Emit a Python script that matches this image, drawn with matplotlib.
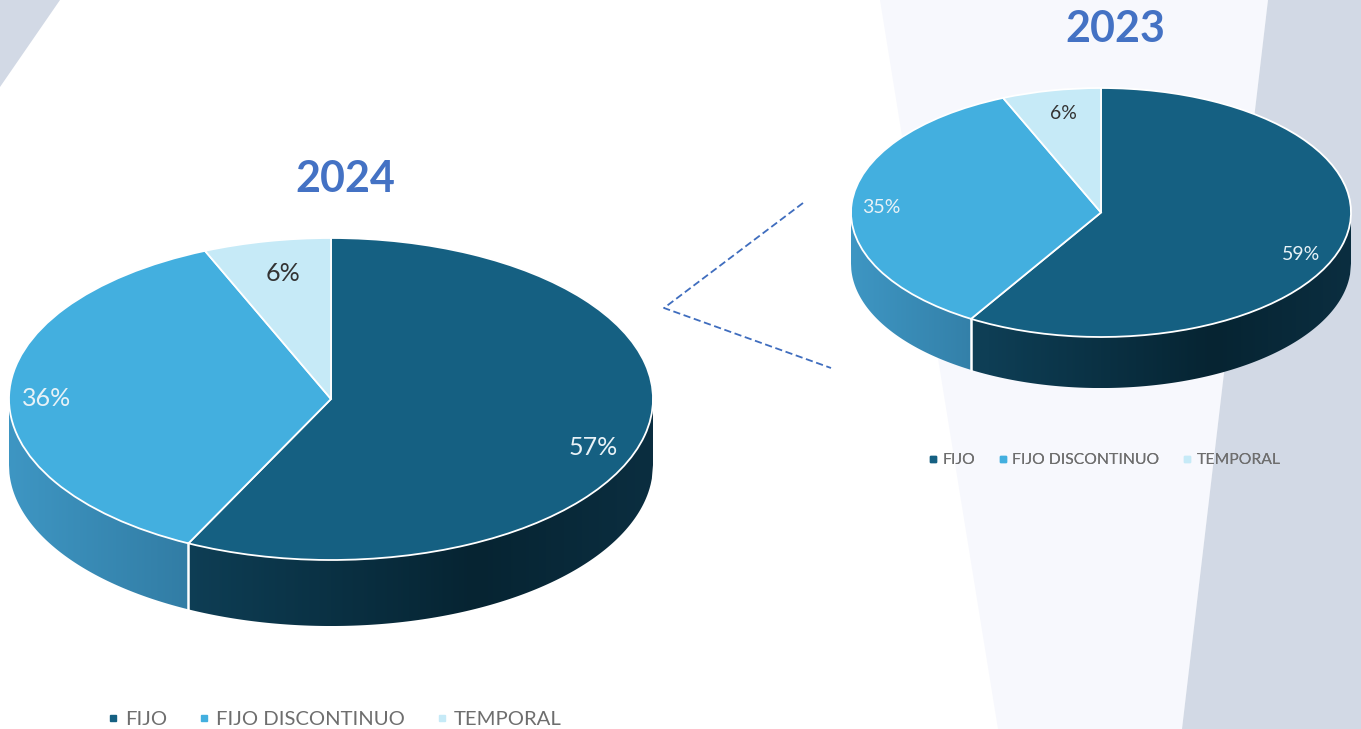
import numpy as np
import matplotlib
matplotlib.use('Agg')
import matplotlib.pyplot as plt
from matplotlib.lines import Line2D
from matplotlib.patches import Polygon
from matplotlib.colors import to_rgb

W, H = 1361, 729

categories = ['FIJO', 'FIJO DISCONTINUO', 'TEMPORAL']
values_2024 = [57.3, 36.3, 6.4]
values_2023 = [58.7, 34.9, 6.4]

top_colors = ['#156082', '#43AFDF', '#C6EAF7']
label_colors = ['#E8F2F7', '#E8F2F7', '#333333']
# degradado de la pared lateral (x en el eje del pie, color)
wall_stops = [
    ([-0.45, 0.45, 1.0], ['#0E3E55', '#062432', '#0B2E40']),
    ([-1.0, -0.45], ['#3E96C3', '#327DA5']),
    ([-1.0, 1.0], ['#9CC4D2', '#9CC4D2']),
]
depth = 0.41

plt.rcParams['font.family'] = ['Lato', 'DejaVu Sans']
fig = plt.figure(figsize=(W / 100, H / 100), dpi=100, facecolor='white')

# fondo en coordenadas de pixel
bg = fig.add_axes([0, 0, 1, 1])
bg.set_xlim(0, W)
bg.set_ylim(H, 0)
bg.axis('off')
bg.add_patch(Polygon([(0, 0), (60, 0), (0, 87)], color='#D2D9E5', lw=0))
bg.add_patch(Polygon([(880, 0), (1268, 0), (1182, 729), (998, 729)], color='#F7F8FD', lw=0))
bg.add_patch(Polygon([(1268, 0), (W, 0), (W, H), (1182, H)], color='#D2D9E5', lw=0))
bg.plot([803, 664, 831], [203, 308, 368], color='#3F6DBE', lw=1.3, ls=(0, (4, 2)))


def draw_wall(ax, start, end, stops):
    # solo la mitad de delante se ve
    a0, a1 = max(start, 90), min(end, 270)
    if a1 <= a0:
        return
    xs_stop, cols = stops
    rgb = np.array([to_rgb(c) for c in cols])
    x0, x1 = sorted([np.sin(np.radians(a0)), np.sin(np.radians(a1))])
    xx = np.linspace(x0, x1, 400)
    yy = -np.sqrt(np.clip(1 - xx ** 2, 0, 1))
    grad = np.stack([np.interp(xx, xs_stop, rgb[:, k]) for k in range(3)], axis=-1)[None, :, :]
    im = ax.imshow(grad, extent=[x0, x1, -1 - depth, 0], aspect='auto', origin='lower',
                   interpolation='bilinear', zorder=1)
    outline = np.vstack([np.column_stack([xx, yy]), np.column_stack([xx[::-1], (yy - depth)[::-1]])])
    clip = Polygon(outline, transform=ax.transData, fc='none', ec='none')
    ax.add_patch(clip)
    im.set_clip_path(clip)


def draw_pie(values, cx, cy, rx, ry, nudges, fs):
    ax = fig.add_axes([(cx - rx) / W, 1 - (cy + ry + depth * ry) / H, 2 * rx / W, (2 + depth) * ry / H])
    ax.patch.set_visible(False)
    wedges, _, autotexts = ax.pie(values, colors=top_colors, startangle=90, counterclock=False,
                                  radius=1, autopct='%.0f%%', pctdistance=0.84,
                                  wedgeprops={'edgecolor': 'white', 'linewidth': 1.3, 'zorder': 3},
                                  textprops={'fontsize': fs})
    for w in wedges:
        w.set_clip_on(False)
    angles = np.concatenate([[0], np.cumsum(values) / np.sum(values) * 360])
    for i in range(len(values)):
        draw_wall(ax, angles[i], angles[i + 1], wall_stops[i])
    ax.set_aspect('auto')
    ax.set_xlim(-1, 1)
    ax.set_ylim(-1 - depth, 1)
    # la linea entre las dos paredes va por encima de todo el eje
    xb = np.sin(np.radians(angles[1]))
    yb = np.cos(np.radians(angles[1]))
    fig.add_artist(Line2D([xb, xb], [yb, yb - depth], color='white', lw=1.8,
                          transform=ax.transData, zorder=10))
    for t, c, (dx, dy) in zip(autotexts, label_colors, nudges):
        x, y = t.get_position()
        t.set_position((x + dx, y + dy))
        t.set_color(c)
        t.set_zorder(5)
    return ax


draw_pie(values_2024, 331, 399, 322, 161, [(-0.003, -0.11), (-0.045, -0.02), (0.018, -0.045)], 18)
draw_pie(values_2023, 1101, 212.5, 250, 124.5, [(-0.008, -0.108), (-0.04, -0.024), (0.018, -0.03)], 14)

bg.text(345, 179, '2024', color='#4472C4', fontsize=31, fontweight='bold', ha='center', va='center')
bg.text(1115, 29, '2023', color='#4472C4', fontsize=31, fontweight='bold', ha='center', va='center')


def add_legend(x, y, fs, ms, gap):
    handles = [Line2D([], [], ls='', marker='s', ms=ms, color=c) for c in top_colors]
    leg = bg.legend(handles, categories, loc='center left', bbox_to_anchor=(x / W, 1 - y / H),
                    bbox_transform=fig.transFigure, ncol=3, frameon=False, fontsize=fs,
                    columnspacing=gap, handletextpad=0.0, handlelength=1.2, borderpad=0, borderaxespad=0)
    for t in leg.get_texts():
        t.set_color('#6E6E6E')
    bg.add_artist(leg)


add_legend(100.5, 719, 14.6, 5, 1.22)
add_legend(923.5, 460, 11.3, 4, 1.17)

fig.savefig('out.png', dpi=100)
